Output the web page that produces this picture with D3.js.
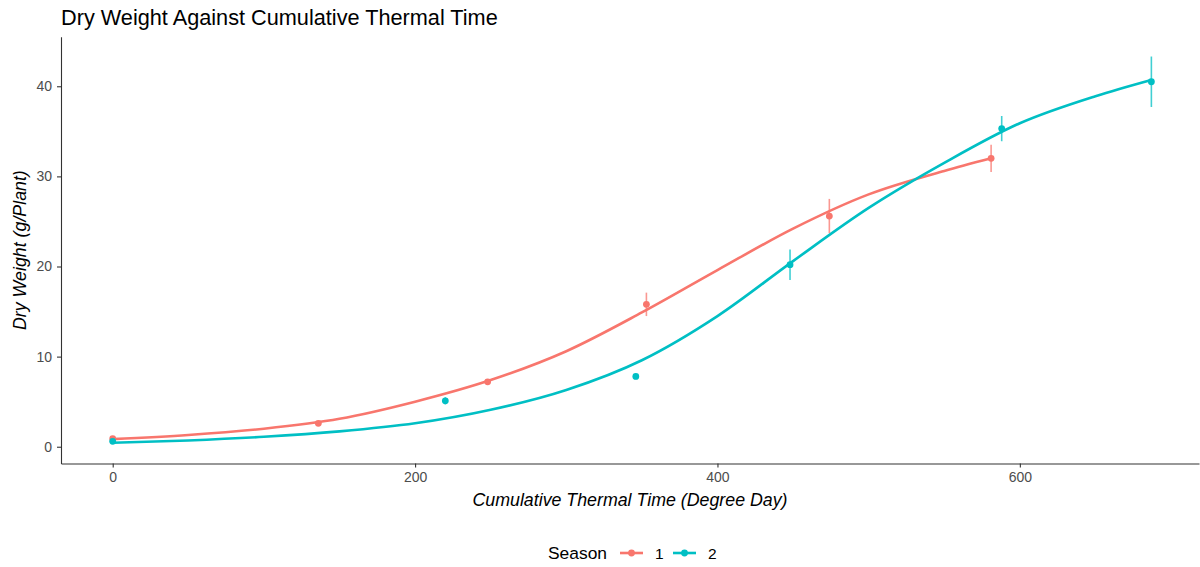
<!DOCTYPE html>
<html>
<head>
<meta charset="utf-8">
<script src="https://cdn.jsdelivr.net/npm/d3@7"></script>
<style>
  body { margin: 0; background: #fff; }
  svg { display: block; font-family: "Liberation Sans", Arial, sans-serif; }
</style>
</head>
<body>
<svg id="chart" width="1200" height="567"></svg>
<script>
// observed means per season
const season1X = [0, 136, 248, 353, 474, 581];
const season1Y = [0.9, 2.6, 7.2, 15.8, 25.6, 32.0];
const season1SE = [0.1, 0.2, 0.3, 1.3, 1.9, 1.5];

const season2X = [0, 220, 346, 448, 588, 687];
const season2Y = [0.6, 5.1, 7.8, 20.2, 35.3, 40.5];
const season2SE = [0.1, 0.4, 0.3, 1.7, 1.4, 2.8];

// fitted curves
const fit1X = [0, 50, 100, 150, 200, 250, 300, 350, 400, 450, 500, 550, 581];
const fit1Y = [0.85, 1.3, 2.0, 3.1, 5.0, 7.4, 10.6, 14.9, 19.6, 24.2, 28.0, 30.6, 32.0];
const fit2X = [0, 50, 100, 150, 200, 250, 300, 350, 400, 450, 500, 550, 600, 650, 687];
const fit2Y = [0.45, 0.7, 1.1, 1.7, 2.6, 4.1, 6.3, 9.6, 14.5, 20.6, 26.5, 31.5, 35.9, 38.9, 40.7];

const seasons = ["1", "2"];
const xTicks = [0, 200, 400, 600];
const yTicks = [0, 10, 20, 30, 40];

const colors = d3.scaleOrdinal().domain(seasons).range(["#F8766D", "#00BFC4"]);

const svg = d3.select("#chart");

const x = d3.scaleLinear().domain([-34.2, 718.5]).range([61, 1199]);
const y = d3.scaleLinear().domain([-1.86, 45.5]).range([463.5, 36.7]);

// build the series from the arrays
const series = [
  { key: "1", fit: fit1X.map((v, i) => [v, fit1Y[i]]), pts: season1X.map((v, i) => ({ x: v, y: season1Y[i], se: season1SE[i] })) },
  { key: "2", fit: fit2X.map((v, i) => [v, fit2Y[i]]), pts: season2X.map((v, i) => ({ x: v, y: season2Y[i], se: season2SE[i] })) }
];

// axes
const xAxis = svg.append("g")
  .attr("transform", `translate(0,${y.range()[0]})`)
  .call(d3.axisBottom(x).tickValues(xTicks).tickSize(4).tickPadding(5).tickSizeOuter(0));
const yAxis = svg.append("g")
  .attr("transform", `translate(${x.range()[0]},0)`)
  .call(d3.axisLeft(y).tickValues(yTicks).tickSize(4).tickPadding(5).tickSizeOuter(0));

[xAxis, yAxis].forEach(a => {
  a.select(".domain").attr("stroke", "#333").attr("stroke-width", 1.1);
  a.selectAll(".tick line").attr("stroke", "#333").attr("stroke-width", 1.1);
  a.selectAll(".tick text")
    .attr("fill", "#4D4D4D")
    .style("font-size", "14px")
    .style("font-family", "Liberation Sans, Arial, sans-serif");
});

const line = d3.line()
  .x(d => x(d[0]))
  .y(d => y(d[1]))
  .curve(d3.curveMonotoneX);

const grp = svg.selectAll("g.season")
  .data(series)
  .join("g")
  .attr("class", "season");

// error bars
grp.selectAll("line.err")
  .data(d => d.pts.map(p => Object.assign({ key: d.key }, p)))
  .join("line")
  .attr("class", "err")
  .attr("x1", d => x(d.x))
  .attr("x2", d => x(d.x))
  .attr("y1", d => y(d.y - d.se))
  .attr("y2", d => y(d.y + d.se))
  .attr("stroke", d => colors(d.key))
  .attr("stroke-opacity", 0.75)
  .attr("stroke-width", 1.6);

// fitted lines
grp.append("path")
  .attr("d", d => line(d.fit))
  .attr("fill", "none")
  .attr("stroke", d => colors(d.key))
  .attr("stroke-width", 2.6);

// points
grp.selectAll("circle")
  .data(d => d.pts.map(p => Object.assign({ key: d.key }, p)))
  .join("circle")
  .attr("cx", d => x(d.x))
  .attr("cy", d => y(d.y))
  .attr("r", 3.4)
  .attr("fill", d => colors(d.key));

// titles
svg.append("text")
  .attr("x", 61)
  .attr("y", 25)
  .style("font-size", "21.7px")
  .attr("fill", "#000")
  .text("Dry Weight Against Cumulative Thermal Time");

svg.append("text")
  .attr("x", (x.range()[0] + x.range()[1]) / 2)
  .attr("y", 506)
  .attr("text-anchor", "middle")
  .style("font-size", "17.8px")
  .style("font-style", "italic")
  .text("Cumulative Thermal Time (Degree Day)");

svg.append("text")
  .attr("transform", `translate(26,${(y.range()[0] + y.range()[1]) / 2}) rotate(-90)`)
  .attr("text-anchor", "middle")
  .style("font-size", "17.8px")
  .style("font-style", "italic")
  .text("Dry Weight (g/Plant)");

// legend at the bottom
const legend = svg.append("g").attr("transform", "translate(0,553)");
legend.append("text")
  .attr("x", 548)
  .attr("y", 6)
  .style("font-size", "17.4px")
  .text("Season");

const keys = legend.selectAll("g.key")
  .data(seasons)
  .join("g")
  .attr("class", "key")
  .attr("transform", (d, i) => `translate(${620 + i * 53},0)`);
keys.append("line")
  .attr("x1", 0).attr("x2", 23)
  .attr("stroke", d => colors(d))
  .attr("stroke-width", 2.6);
keys.append("circle")
  .attr("cx", 11.5)
  .attr("r", 3.4)
  .attr("fill", d => colors(d));
keys.append("text")
  .attr("x", 35)
  .attr("y", 6)
  .style("font-size", "15.5px")
  .text(d => d);
</script>
</body>
</html>
